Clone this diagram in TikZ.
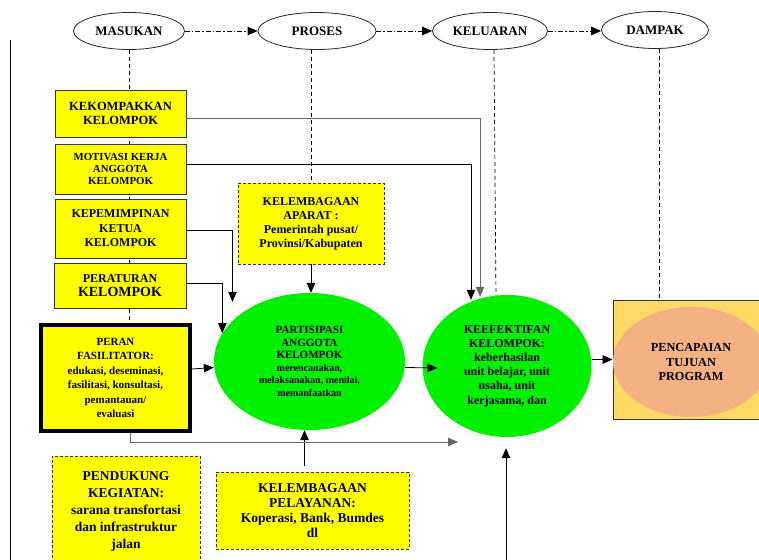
\documentclass[tikz,border=0pt]{standalone}
\usepackage{fontspec}
\setmainfont{Liberation Serif}
\usetikzlibrary{shapes.geometric,arrows.meta,backgrounds}
\definecolor{kuning}{RGB}{255,255,0}
\definecolor{hijau}{RGB}{0,240,0}
\definecolor{jingga}{RGB}{255,217,102}
\definecolor{salem}{RGB}{244,177,131}

\begin{document}
\begin{tikzpicture}
[x=1pt,y=-1pt,
	tahap/.style={ellipse,draw=black!85,line width=0.8pt,fill=white,inner sep=0pt,minimum height=37pt,font=\fontsize{13}{15}\selectfont\bfseries},
	faktor/.style={rectangle,draw=black!80,line width=0.8pt,fill=kuning,align=center,inner sep=0pt,font=\bfseries},
	lembaga/.style={faktor,dash pattern=on 3pt off 2pt},
	hasil/.style={ellipse,fill=hijau,inner sep=0pt,align=center,font=\bfseries},
	panah/.style={-{Triangle[length=10pt,width=8.5pt]},line width=0.8pt},
	alur/.style={panah,dash pattern=on 5pt off 2pt on 1.5pt off 2pt},
	garis/.style={line width=0.7pt,dash pattern=on 4pt off 3pt}]
\clip (0,0) rectangle (759,559);

\node[tahap,minimum width=111pt] (masukan) at (129,31) {MASUKAN};
\node[tahap,minimum width=118pt] (proses) at (317,31) {PROSES};
\node[tahap,minimum width=115pt] (keluaran) at (490,31) {KELUARAN};
\node[tahap,minimum width=107pt] (dampak) at (655,30) {DAMPAK};

\node[faktor,minimum width=131pt,minimum height=47pt,font=\fontsize{12.5}{14}\selectfont\bfseries] (kompak) at (120.5,113.5) {KEKOMPAKKAN\\KELOMPOK};
\node[faktor,minimum width=131pt,minimum height=50pt,font=\fontsize{10.8}{12}\selectfont\bfseries] (motiv) at (120.5,169) {MOTIVASI KERJA\\ANGGOTA\\KELOMPOK};
\node[faktor,minimum width=131pt,minimum height=59pt,font=\fontsize{12}{14.5}\selectfont\bfseries] (kepem) at (120.5,228.5) {KEPEMIMPINAN\\KETUA\\KELOMPOK};
\node[faktor,minimum width=132pt,minimum height=45pt,font=\fontsize{12}{14}\selectfont\bfseries] (perat) at (120,285.5) {PERATURAN\\{\fontsize{14}{15}\selectfont KELOMPOK}};
\node[faktor,line width=3.5pt,draw=black,minimum width=149pt,minimum height=106pt,font=\fontsize{11}{14.5}\selectfont\bfseries] (fasil) at (115.5,378) {PERAN\\FASILITATOR:\\edukasi, deseminasi,\\fasilitasi, konsultasi,\\pemantauan/\\evaluasi};
\node[lembaga,minimum width=148pt,minimum height=110pt,font=\fontsize{13.5}{17}\selectfont\bfseries] (dukung) at (126,511) {PENDUKUNG\\KEGIATAN:\\sarana transfortasi\\dan infrastruktur\\jalan};
\node[lembaga,minimum width=146pt,minimum height=81pt,font=\fontsize{12}{14}\selectfont\bfseries] (aparat) at (311,223.5) {KELEMBAGAAN\\APARAT :\\Pemerintah pusat/\\Provinsi/Kabupaten};
\node[lembaga,minimum width=193pt,minimum height=77pt,font=\fontsize{13.5}{15}\selectfont\bfseries] (pelay) at (312.5,510.5) {KELEMBAGAAN\\PELAYANAN:\\Koperasi, Bank, Bumdes\\dl};

\node[hasil,minimum width=191pt,minimum height=137pt,font=\fontsize{11}{12.5}\selectfont\bfseries] (partisi) at (309.5,361.5) {PARTISIPASI\\ANGGOTA\\KELOMPOK\\{\fontsize{10}{12}\selectfont merencanakan,}\\{\fontsize{10}{12}\selectfont melaksanakan, menilai,}\\{\fontsize{10}{12}\selectfont memanfaatkan}};
\node[hasil,minimum width=169pt,minimum height=142pt,font=\fontsize{12}{14.2}\selectfont\bfseries] (keef) at (507,366) {KEEFEKTIFAN\\KELOMPOK:\\keberhasilan\\unit belajar, unit\\usaha, unit\\kerjasama, dan};
\node[rectangle,draw=black!80,line width=1pt,fill=jingga,minimum width=156pt,minimum height=119pt] (pencap) at (691,359.5) {};
\node[ellipse,fill=salem,inner sep=0pt,align=center,minimum width=156pt,minimum height=110pt,font=\fontsize{12.3}{14.5}\selectfont\bfseries] (tujuan) at (691,362) {PENCAPAIAN\\TUJUAN\\PROGRAM};

\coordinate (fasiltip) at (458,442);
\coordinate (bawah) at (506,565);

\begin{pgfonlayer}{background}
\draw[garis] (masukan.south) -- (masukan.south |- fasil.north);
\draw[garis] (aparat.north |- proses.south) -- (aparat.north);
\draw[garis] ([xshift=4pt]keluaran.south) -- ([xshift=-11pt,yshift=-6pt]keef.north);
\draw[garis] ([xshift=4pt]dampak.south) -- ([xshift=4pt]dampak.south |- pencap.north);
\end{pgfonlayer}

\draw[alur] (masukan) -- (proses);
\draw[alur] (proses) -- (keluaran);
\draw[alur] (keluaran.east) -- (dampak.west |- keluaran.east);

\draw[line width=0.8pt] (10,40) -- (10,565);

\draw[panah,draw=black!60] ([yshift=-5pt]kompak.east) -| ([xshift=-27pt,yshift=-2pt]keef.north);
\draw[panah] ([yshift=5pt]motiv.east) -| ([xshift=-36pt,yshift=-5pt]keef.north);
\draw[panah] ([yshift=-1.5pt]kepem.east) -| ([xshift=-77pt,yshift=-9pt]partisi.north);
\draw[panah] ([yshift=2.5pt]perat.east) -| (partisi.162);
\draw[panah] (aparat.south) -- (aparat.south |- partisi.north);
\draw[panah] ([yshift=9pt]fasil.east) -- ([yshift=-6pt]partisi.west);
\draw[panah] ([yshift=-6pt]partisi.east) -- ([xshift=15pt,yshift=-2pt]keef.west);
\draw[panah] (keef.east |- pencap.west) -- (pencap.west);
\draw[panah] ([xshift=-8pt,yshift=6pt]pelay.north) -- ([xshift=-5pt]partisi.south);
\draw[panah,draw=black!60] ([xshift=14.5pt]fasil.south) |- (fasiltip);
\draw[panah] (bawah) -- ([xshift=-1pt,yshift=-11pt]keef.south);
\end{tikzpicture}
\end{document}
